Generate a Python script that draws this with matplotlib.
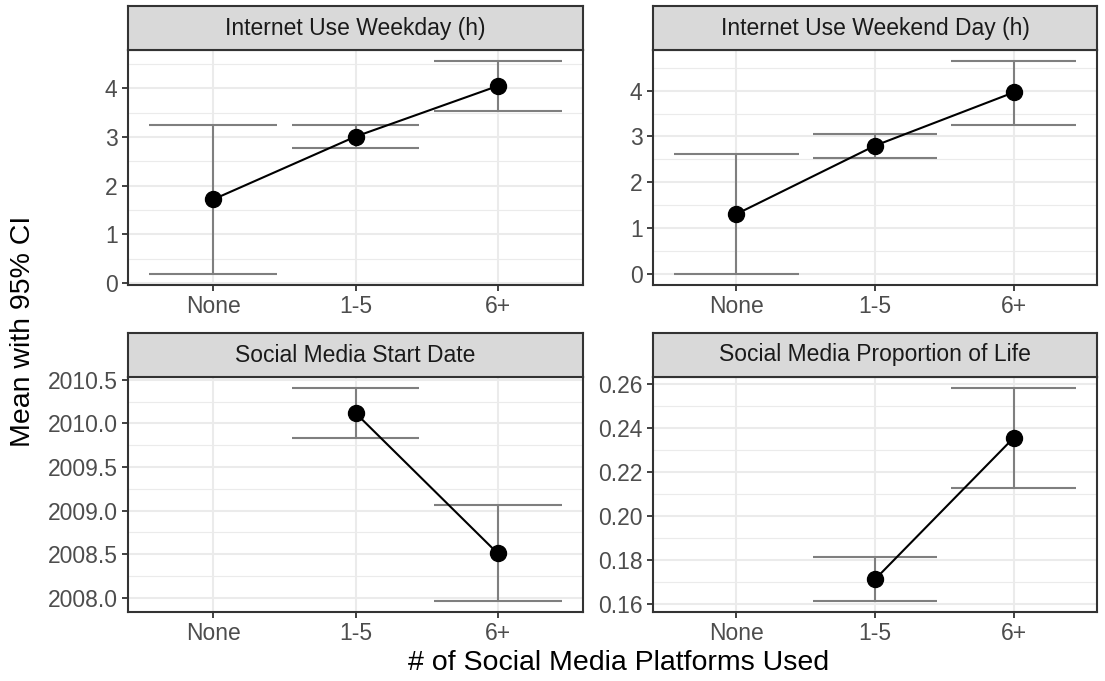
import matplotlib
matplotlib.use("Agg")
import matplotlib.pyplot as plt
import numpy as np
from matplotlib.ticker import MultipleLocator, FormatStrFormatter

plt.rcParams["font.family"] = ["Liberation Sans", "DejaVu Sans"]

categories = ["None", "1-5", "6+"]
titles = [
    "Internet Use Weekday (h)",
    "Internet Use Weekend Day (h)",
    "Social Media Start Date",
    "Social Media Proportion of Life",
]

weekday_mean = [1.72, 3.01, 4.05]
weekday_lo = [0.18, 2.77, 3.54]
weekday_hi = [3.25, 3.25, 4.57]

weekend_mean = [1.31, 2.80, 3.96]
weekend_lo = [0.00, 2.54, 3.25]
weekend_hi = [2.61, 3.06, 4.65]

start_mean = [np.nan, 2010.12, 2008.51]
start_lo = [np.nan, 2009.83, 2007.96]
start_hi = [np.nan, 2010.41, 2009.06]

prop_mean = [np.nan, 0.171, 0.2355]
prop_lo = [np.nan, 0.161, 0.2128]
prop_hi = [np.nan, 0.181, 0.2583]

series = [
    (weekday_mean, weekday_lo, weekday_hi),
    (weekend_mean, weekend_lo, weekend_hi),
    (start_mean, start_lo, start_hi),
    (prop_mean, prop_lo, prop_hi),
]
# (major step, minor step, tick format) per panel
yticks = [(1, 0.5, "%d"), (1, 0.5, "%d"), (0.5, 0.25, "%.1f"), (0.02, 0.01, "%.2f")]

W, H = 1105, 681
boxes = [
    (128, 50, 583, 285),
    (653, 50, 1097, 285),
    (128, 377, 583, 612),
    (653, 377, 1097, 612),
]
strip_h = 44

dark = "#333333"
grid_col = "#EBEBEB"

fig = plt.figure(figsize=(W / 100, H / 100), dpi=100)

xpos = np.arange(1, len(categories) + 1)
for (x0, y0, x1, y1), title, (mean, lo, hi), (step, mstep, fmt) in zip(boxes, titles, series, yticks):
    ax = fig.add_axes([x0 / W, 1 - y1 / H, (x1 - x0) / W, (y1 - y0) / H])
    mean, lo, hi = np.array(mean), np.array(lo), np.array(hi)
    ok = ~np.isnan(mean)

    ax.vlines(xpos[ok], lo[ok], hi[ok], color="#7F7F7F", lw=1.5, zorder=3)
    ax.hlines(lo[ok], xpos[ok] - 0.45, xpos[ok] + 0.45, color="#7F7F7F", lw=1.5, zorder=3)
    ax.hlines(hi[ok], xpos[ok] - 0.45, xpos[ok] + 0.45, color="#7F7F7F", lw=1.5, zorder=3)
    ax.plot(xpos[ok], mean[ok], color="black", lw=1.5, zorder=4)
    ax.plot(xpos[ok], mean[ok], "o", color="black", ms=11.5, zorder=5)

    ymin, ymax = np.nanmin(lo), np.nanmax(hi)
    pad = 0.05 * (ymax - ymin)
    ax.set_ylim(ymin - pad, ymax + pad)
    ax.set_xlim(0.4, 3.6)

    ax.set_xticks(xpos)
    ax.set_xticklabels(categories)
    ax.yaxis.set_major_locator(MultipleLocator(step))
    ax.yaxis.set_minor_locator(MultipleLocator(mstep))
    ax.yaxis.set_major_formatter(FormatStrFormatter(fmt))

    ax.grid(True, which="major", color=grid_col, lw=1.5, zorder=0)
    ax.grid(True, which="minor", axis="y", color=grid_col, lw=0.8, zorder=0)
    ax.set_axisbelow(True)
    ax.tick_params(which="major", length=4.5, width=1.3, color=dark,
                   labelsize=16.5, labelcolor="#4D4D4D", pad=3)
    ax.tick_params(which="minor", length=0)
    for sp in ax.spines.values():
        sp.set_color(dark)
        sp.set_linewidth(1.5)

    sax = fig.add_axes([x0 / W, 1 - y0 / H, (x1 - x0) / W, strip_h / H])
    sax.set_facecolor("#D9D9D9")
    sax.set_xticks([])
    sax.set_yticks([])
    for sp in sax.spines.values():
        sp.set_color(dark)
        sp.set_linewidth(1.5)
    sax.text(0.5, 0.5, title, ha="center", va="center", fontsize=16.5,
             color="#1A1A1A", transform=sax.transAxes)

fig.text(619 / W, 1 - 663 / H, "# of Social Media Platforms Used",
         ha="center", va="center", fontsize=20.5)
fig.text(23 / W, 1 - 331 / H, "Mean with 95% CI", ha="center", va="center",
         rotation=90, fontsize=20.5)

fig.savefig("out.png", dpi=100)
plt.close(fig)
